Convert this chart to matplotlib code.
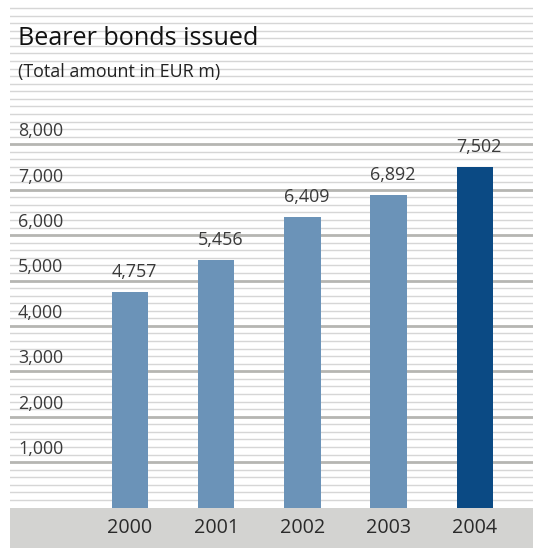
import numpy as np
import matplotlib
matplotlib.use("Agg")
import matplotlib.pyplot as plt
from matplotlib.transforms import blended_transform_factory

plt.rcParams['font.family'] = ['Open Sans', 'DejaVu Sans']

years = ["2000", "2001", "2002", "2003", "2004"]
amounts = [4757, 5456, 6409, 6892, 7502]
bar_colors = ["#6b93b8", "#6b93b8", "#6b93b8", "#6b93b8", "#0b4a84"]
tick_values = [1000, 2000, 3000, 4000, 5000, 6000, 7000, 8000]
tick_labels = ["1,000", "2,000", "3,000", "4,000", "5,000", "6,000", "7,000", "8,000"]
value_labels = ["4,757", "5,456", "6,409", "6,892", "7,502"]

W, H = 533, 548
fig = plt.figure(figsize=(W / 100, H / 100), dpi=100)
fig.patch.set_facecolor("white")

# axes spans x 10..533 px and the full height
ax = fig.add_axes([10 / W, 0, 1 - 10 / W, 1])
px_per_unit = 45.4 / 1000.0
zero_px = 507.5
ax.set_ylim(-(H - zero_px) / px_per_unit, zero_px / px_per_unit)
ax.set_xlim((10 - 130) / 86.2, (533 - 130) / 86.2)
ax.axis("off")

# ruled background: fine lines every 1/6 of 1,000, heavier at each 1,000
minor_step = 1000 / 6
for k in range(1, 67):
    level = k * minor_step
    if k % 6 == 0 and k <= 48:
        ax.axhline(level, color="#b6b6b2", lw=2.0, zorder=1)
    else:
        ax.axhline(level, color="#d6d6d6", lw=1.0, zorder=1)

# grey band under the bars
ax.axhspan(ax.get_ylim()[0], 0, color="#d3d3d1", zorder=2, lw=0)

x = np.arange(len(years))
ax.bar(x, amounts, width=0.42, color=bar_colors, zorder=3, linewidth=0)

trans = blended_transform_factory(ax.transAxes, ax.transData)
for v, lab in zip(tick_values, tick_labels):
    ax.annotate(lab, xy=(8 / (W - 10), v), xycoords=trans, xytext=(0, 5.8),
                textcoords="offset points", ha="left", va="baseline",
                fontsize=12.9, color="#3a3a3a", zorder=4)

for xi, v, lab in zip(x, amounts, value_labels):
    ax.annotate(lab, xy=(xi, v), xytext=(3.2, 10.8), textcoords="offset points",
                ha="center", va="baseline", fontsize=12.9,
                color="#3a3a3a", zorder=4)

for xi, yr in zip(x, years):
    ax.text(xi, -(528 - zero_px) / px_per_unit, yr, ha="center", va="center",
            fontsize=14.2, color="#2a2a2a", zorder=4)

fig.text(18 / W, 1 - 45 / H, "Bearer bonds issued", ha="left", va="baseline",
         fontsize=18.1, color="#111111")
fig.text(18 / W, 1 - 77 / H, "(Total amount in EUR m)", ha="left", va="baseline",
         fontsize=12.9, color="#222222")

fig.savefig("out.png", dpi=100, facecolor="white")
